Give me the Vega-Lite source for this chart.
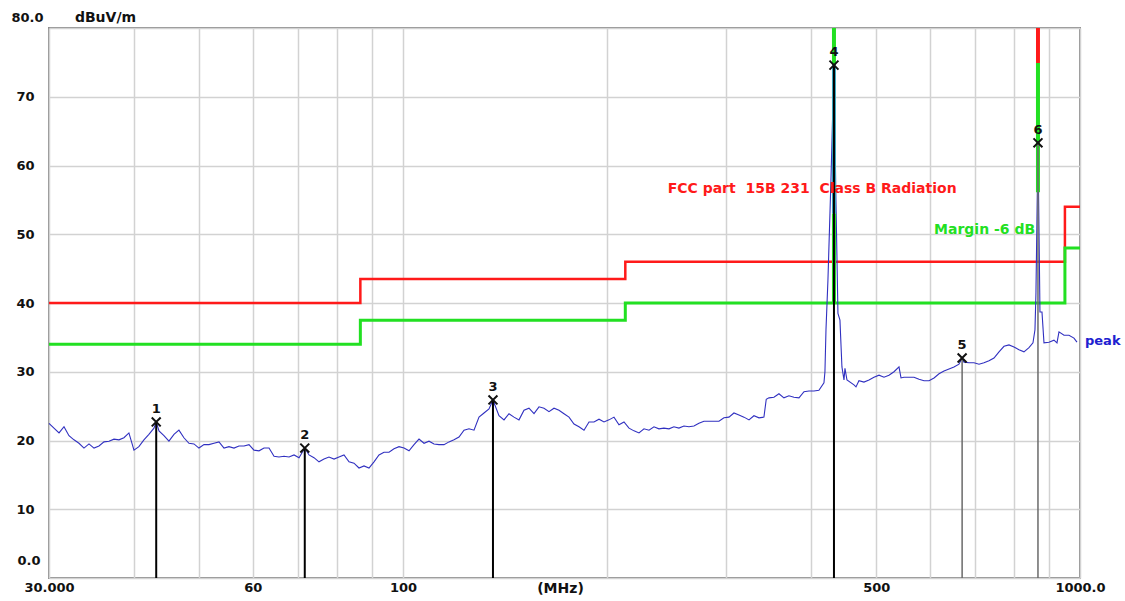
{
  "$schema": "https://vega.github.io/schema/vega-lite/v6.json",
  "width": 1031,
  "height": 550,
  "autosize": "none",
  "padding": {"left": 49, "top": 28, "right": 45, "bottom": 23},
  "background": "white",
  "config": {"view": {"stroke": "#8c8c8c", "strokeWidth": 2}, "font": "DejaVu Sans"},
  "datasets": {
    "limits": [
      {"line": "limit", "f": 30, "v": 40}, {"line": "limit", "f": 86.5, "v": 43.5}, {"line": "limit", "f": 213, "v": 46}, {"line": "limit", "f": 950, "v": 54}, {"line": "limit", "f": 1000, "v": 54},
      {"line": "margin", "f": 30, "v": 34}, {"line": "margin", "f": 86.5, "v": 37.5}, {"line": "margin", "f": 213, "v": 40}, {"line": "margin", "f": 950, "v": 48}, {"line": "margin", "f": 1000, "v": 48}
    ],
    "peak": [
      {"f":30.0,"v":22.5},{"f":30.51,"v":21.8},{"f":31.04,"v":21.1},{"f":31.57,"v":22.0},{"f":32.11,"v":20.7},{"f":32.66,"v":20.1},{"f":33.22,"v":19.6},{"f":33.79,"v":18.9},{"f":34.37,"v":19.5},{"f":34.96,"v":18.9},{"f":35.56,"v":19.2},{"f":36.17,"v":19.8},{"f":36.79,"v":19.9},{"f":37.42,"v":20.2},{"f":38.06,"v":20.1},{"f":38.71,"v":20.4},{"f":39.37,"v":21.1},{"f":40.05,"v":18.6},{"f":40.73,"v":19.1},{"f":41.43,"v":20.1},{"f":42.14,"v":20.9},{"f":42.87,"v":21.8},{"f":43.2,"v":22.7},{"f":43.61,"v":21.4},{"f":44.35,"v":20.7},{"f":45.11,"v":19.9},{"f":45.89,"v":20.9},{"f":46.67,"v":21.5},{"f":47.47,"v":20.4},{"f":48.29,"v":19.6},{"f":49.12,"v":19.5},{"f":49.96,"v":18.9},{"f":50.82,"v":19.4},{"f":51.69,"v":19.4},{"f":52.58,"v":19.6},{"f":53.48,"v":19.8},{"f":54.40,"v":18.9},{"f":55.33,"v":19.1},{"f":56.28,"v":18.9},{"f":57.24,"v":19.2},{"f":58.23,"v":19.2},{"f":59.23,"v":19.4},{"f":60.24,"v":18.6},{"f":61.28,"v":18.5},{"f":62.33,"v":18.9},{"f":63.40,"v":18.9},{"f":64.49,"v":17.7},{"f":65.59,"v":17.6},{"f":66.72,"v":17.7},{"f":67.87,"v":17.6},{"f":69.03,"v":17.9},{"f":70.22,"v":17.5},{"f":71.6,"v":18.9},{"f":72.64,"v":17.9},{"f":73.88,"v":17.5},{"f":75.15,"v":16.9},{"f":76.44,"v":17.3},{"f":77.75,"v":17.6},{"f":79.09,"v":17.3},{"f":80.44,"v":17.6},{"f":81.82,"v":17.9},{"f":83.23,"v":16.9},{"f":84.65,"v":16.7},{"f":86.10,"v":16.0},{"f":87.58,"v":16.3},{"f":89.08,"v":16.0},{"f":90.61,"v":16.9},{"f":92.16,"v":17.9},{"f":93.75,"v":18.3},{"f":95.36,"v":18.3},{"f":96.99,"v":18.8},{"f":98.66,"v":19.1},{"f":100.35,"v":18.9},{"f":102.07,"v":18.5},{"f":103.82,"v":19.4},{"f":105.60,"v":20.2},{"f":107.41,"v":19.6},{"f":109.25,"v":19.9},{"f":111.13,"v":19.5},{"f":113.03,"v":19.4},{"f":114.97,"v":19.4},{"f":116.94,"v":19.8},{"f":118.94,"v":20.1},{"f":120.98,"v":20.5},{"f":123.06,"v":21.5},{"f":125.17,"v":21.7},{"f":127.32,"v":21.5},{"f":129.50,"v":23.4},{"f":131.72,"v":24.0},{"f":133.98,"v":24.6},{"f":135.8,"v":25.9},{"f":138.61,"v":23.6},{"f":140.99,"v":23.0},{"f":143.41,"v":23.9},{"f":145.87,"v":23.4},{"f":148.37,"v":23.0},{"f":150.92,"v":24.4},{"f":153.50,"v":24.7},{"f":156.14,"v":23.9},{"f":158.82,"v":24.9},{"f":161.54,"v":24.7},{"f":164.31,"v":24.2},{"f":167.13,"v":24.7},{"f":169.99,"v":24.4},{"f":172.91,"v":23.9},{"f":175.88,"v":23.4},{"f":178.89,"v":22.4},{"f":181.96,"v":22.0},{"f":185.08,"v":21.5},{"f":188.26,"v":22.7},{"f":191.48,"v":22.7},{"f":194.77,"v":23.1},{"f":198.11,"v":22.7},{"f":201.50,"v":23.0},{"f":204.96,"v":23.4},{"f":208.47,"v":22.3},{"f":212.05,"v":22.7},{"f":215.69,"v":21.8},{"f":219.39,"v":21.4},{"f":223.15,"v":21.1},{"f":226.98,"v":21.7},{"f":230.87,"v":21.5},{"f":234.8,"v":22.0},{"f":238.8,"v":21.7},{"f":242.9,"v":21.8},{"f":247.1,"v":21.7},{"f":251.3,"v":22.0},{"f":255.6,"v":21.8},{"f":260.0,"v":22.1},{"f":264.5,"v":22.0},{"f":269.0,"v":22.1},{"f":273.6,"v":22.5},{"f":278.3,"v":22.8},{"f":283.1,"v":22.8},{"f":288.0,"v":22.8},{"f":292.9,"v":22.8},{"f":297.9,"v":23.3},{"f":303.0,"v":23.4},{"f":308.2,"v":24.0},{"f":313.5,"v":23.7},{"f":318.9,"v":23.4},{"f":324.4,"v":23.0},{"f":329.9,"v":23.6},{"f":335.6,"v":23.3},{"f":341.3,"v":23.4},{"f":344.0,"v":26.0},{"f":347.2,"v":26.2},{"f":353.1,"v":26.3},{"f":359.2,"v":26.8},{"f":365.3,"v":26.2},{"f":371.6,"v":26.5},{"f":378.0,"v":26.3},{"f":384.5,"v":26.2},{"f":391.1,"v":27.1},{"f":397.8,"v":27.2},{"f":404.6,"v":27.2},{"f":411.5,"v":27.3},{"f":418.6,"v":28.4},{"f":420.0,"v":30.0},{"f":421.5,"v":36.1},{"f":424.3,"v":43.3},{"f":428.7,"v":57.9},{"f":433.1,"v":74.6},{"f":436.0,"v":55.0},{"f":439.0,"v":38.5},{"f":442.0,"v":37.5},{"f":445.0,"v":30.7},{"f":448.1,"v":28.8},{"f":449.6,"v":30.5},{"f":452.7,"v":28.8},{"f":463.6,"v":28.1},{"f":466.8,"v":27.8},{"f":471.5,"v":28.7},{"f":479.6,"v":28.5},{"f":487.9,"v":28.8},{"f":496.2,"v":29.2},{"f":504.8,"v":29.5},{"f":513.4,"v":29.2},{"f":522.2,"v":29.5},{"f":531.2,"v":30.0},{"f":540.3,"v":30.7},{"f":544.0,"v":29.1},{"f":549.6,"v":29.2},{"f":559.0,"v":29.2},{"f":568.6,"v":29.2},{"f":578.4,"v":28.9},{"f":588.3,"v":28.7},{"f":598.4,"v":28.7},{"f":608.7,"v":29.1},{"f":619.1,"v":29.7},{"f":629.7,"v":30.1},{"f":640.5,"v":30.4},{"f":651.4,"v":30.7},{"f":662.6,"v":31.1},{"f":669.7,"v":32.0},{"f":674.0,"v":31.4},{"f":685.5,"v":31.3},{"f":697.3,"v":31.3},{"f":709.3,"v":31.1},{"f":721.4,"v":31.3},{"f":733.8,"v":31.6},{"f":746.4,"v":32.0},{"f":759.2,"v":32.9},{"f":772.2,"v":33.7},{"f":785.4,"v":33.9},{"f":798.9,"v":33.6},{"f":812.6,"v":33.2},{"f":826.5,"v":32.9},{"f":840.7,"v":33.5},{"f":852.2,"v":34.2},{"f":858.0,"v":36.1},{"f":860.9,"v":41.5},{"f":866.8,"v":63.3},{"f":872.7,"v":38.7},{"f":878.7,"v":38.7},{"f":884.7,"v":34.2},{"f":899.9,"v":34.3},{"f":915.3,"v":34.6},{"f":924.7,"v":34.2},{"f":931.0,"v":35.8},{"f":947.0,"v":35.3},{"f":963.2,"v":35.3},{"f":979.7,"v":34.9},{"f":989.7,"v":34.3}
    ],
    "spikes": [
      {"line": "margin", "f": 433.1, "lo": 74.6, "hi": 80},
      {"line": "qp", "f": 433.1, "lo": 53, "hi": 74.6},
      {"line": "margin", "f": 433.1, "lo": 40, "hi": 53},
      {"line": "limit", "f": 866.8, "lo": 74.9, "hi": 80},
      {"line": "margin", "f": 866.8, "lo": 56.1, "hi": 74.9}
    ],
    "markers": [
      {"n": 1, "f": 43.2, "v": 22.7},
      {"n": 2, "f": 71.6, "v": 18.9},
      {"n": 3, "f": 135.8, "v": 25.9},
      {"n": 4, "f": 433.1, "v": 74.6},
      {"n": 5, "f": 669.7, "v": 32.0},
      {"n": 6, "f": 866.8, "v": 63.3}
    ],
    "notes": [
      {"label": "FCC part\u00a0 15B 231\u00a0 Class B Radiation", "f": 246, "v": 56.6, "line": "limit"},
      {"label": "Margin -6 dB", "f": 608.7, "v": 50.6, "line": "margin"}
    ],
    "tag": [{"label": "peak", "f": 1000, "v": 34.5}]
  },
  "layer": [
    {
      "data": {"name": "limits"},
      "transform": [{"filter": "datum.line == 'limit'"}],
      "mark": {"type": "line", "interpolate": "step-after", "color": "#ff1a1a", "strokeWidth": 2.5},
      "encoding": {
        "x": {
          "field": "f", "type": "quantitative",
          "scale": {"type": "log", "domain": [30, 1000], "nice": false},
          "axis": {
            "values": [30, 40, 50, 60, 70, 80, 90, 100, 200, 300, 400, 500, 600, 700, 800, 900, 1000],
            "labelExpr": "datum.value == 30 ? '30.000' : datum.value == 60 ? '60' : datum.value == 100 ? '100' : datum.value == 500 ? '500' : datum.value == 1000 ? '1000.0' : ''",
            "labelFlush": false, "labelOverlap": false, "labelBound": false,
            "grid": true, "gridColor": "#d2d2d2", "gridWidth": 1.5,
            "ticks": false, "domain": false,
            "labelFont": "DejaVu Sans", "labelFontWeight": "bold", "labelFontSize": 13, "labelColor": "#111111", "labelPadding": 3,
            "title": "(MHz)", "titleX": 511, "titleY": 3, "titleBaseline": "top", "titleAlign": "center",
            "titleFont": "DejaVu Sans", "titleFontWeight": "bold", "titleFontSize": 14, "titleColor": "#111111"
          }
        },
        "y": {
          "field": "v", "type": "quantitative",
          "scale": {"domain": [0, 80], "nice": false},
          "axis": {
            "values": [0, 10, 20, 30, 40, 50, 60, 70, 80],
            "labelExpr": "datum.value == 0 ? '0.0' : datum.value == 80 ? '80.0' : datum.label",
            "labelFlush": false, "labelOverlap": false, "labelBound": false,
            "grid": true, "gridColor": "#d2d2d2", "gridWidth": 1.5,
            "ticks": false, "domain": false,
            "labelFont": "DejaVu Sans", "labelFontWeight": "bold", "labelFontSize": 13, "labelColor": "#111111",
            "labelPadding": {"condition": [{"test": "datum.value == 80", "value": 6}, {"test": "datum.value == 0", "value": 9}], "value": 15},
            "labelOffset": {"condition": [{"test": "datum.value == 80", "value": -11}, {"test": "datum.value == 0", "value": -18}], "value": 0},
            "title": "dBuV/m", "titleAngle": 0, "titleX": 56, "titleY": -11, "titleAlign": "center", "titleBaseline": "middle",
            "titleFont": "DejaVu Sans", "titleFontWeight": "bold", "titleFontSize": 14, "titleColor": "#111111"
          }
        }
      }
    },
    {
      "data": {"name": "limits"},
      "transform": [{"filter": "datum.line == 'margin'"}],
      "mark": {"type": "line", "interpolate": "step-after", "color": "#22e022", "strokeWidth": 3},
      "encoding": {
        "x": {"field": "f", "type": "quantitative"},
        "y": {"field": "v", "type": "quantitative"}
      }
    },
    {
      "data": {"name": "peak"},
      "mark": {"type": "line", "color": "#3030c0", "strokeWidth": 1.1},
      "encoding": {
        "x": {"field": "f", "type": "quantitative"},
        "y": {"field": "v", "type": "quantitative"}
      }
    },
    {
      "data": {"name": "spikes"},
      "mark": {"type": "rule", "strokeWidth": 4},
      "encoding": {
        "x": {"field": "f", "type": "quantitative"},
        "y": {"field": "lo", "type": "quantitative"},
        "y2": {"field": "hi"},
        "color": {"condition": [{"test": "datum.line == 'limit'", "value": "#ff1a1a"}, {"test": "datum.line == 'margin'", "value": "#22e022"}], "value": "#3aa8c0"}
      }
    },
    {
      "data": {"name": "markers"},
      "mark": {"type": "rule"},
      "encoding": {
        "x": {"field": "f", "type": "quantitative"},
        "y": {"field": "v", "type": "quantitative"},
        "y2": {"datum": 0},
        "color": {"condition": {"test": "datum.n >= 5", "value": "#6a6a6a"}, "value": "#000000"},
        "strokeWidth": {"condition": {"test": "datum.n >= 5", "value": 1.5}, "value": 2}
      }
    },
    {
      "data": {"name": "markers"},
      "mark": {"type": "point", "shape": "M-1,-1L1,1M1,-1L-1,1", "filled": false, "size": 80, "strokeWidth": 2, "color": "#111111", "opacity": 1},
      "encoding": {
        "x": {"field": "f", "type": "quantitative"},
        "y": {"field": "v", "type": "quantitative"}
      }
    },
    {
      "data": {"name": "markers"},
      "mark": {"type": "text", "dy": -13, "font": "DejaVu Sans", "fontWeight": "bold", "fontSize": 13, "color": "#111111"},
      "encoding": {
        "x": {"field": "f", "type": "quantitative"},
        "y": {"field": "v", "type": "quantitative"},
        "text": {"field": "n", "type": "nominal"}
      }
    },
    {
      "data": {"name": "notes"},
      "mark": {"type": "text", "align": "left", "baseline": "middle", "font": "DejaVu Sans", "fontWeight": "bold", "fontSize": 14},
      "encoding": {
        "x": {"field": "f", "type": "quantitative"},
        "y": {"field": "v", "type": "quantitative"},
        "text": {"field": "label", "type": "nominal"},
        "color": {"condition": {"test": "datum.line == 'limit'", "value": "#ff1a1a"}, "value": "#22e022"}
      }
    },
    {
      "data": {"name": "tag"},
      "mark": {"type": "text", "align": "left", "baseline": "middle", "dx": 5, "font": "DejaVu Sans", "fontWeight": "bold", "fontSize": 13, "color": "#2020d0"},
      "encoding": {
        "x": {"field": "f", "type": "quantitative"},
        "y": {"field": "v", "type": "quantitative"},
        "text": {"field": "label", "type": "nominal"}
      }
    }
  ]
}
